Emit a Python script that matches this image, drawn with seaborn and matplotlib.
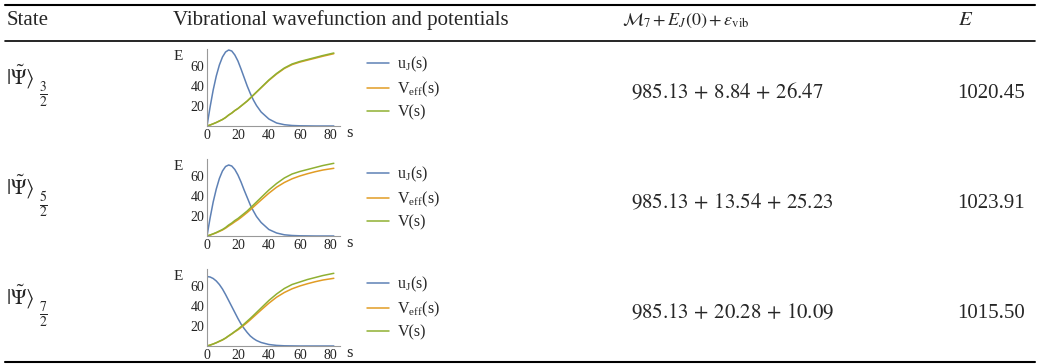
import pandas as pd
import seaborn as sns
import matplotlib.pyplot as plt
from matplotlib.ticker import MultipleLocator

sns.set_style("white")
plt.rcParams["font.family"] = ["Liberation Serif", "DejaVu Serif"]
plt.rcParams["mathtext.fontset"] = "stix"

# table text
header = ["State", "Vibrational wavefunction and potentials",
          r"$\mathcal{M}_7 + E_J(0) + \varepsilon_{\mathrm{vib}}$", r"$E$"]
state_tag = r"$|\tilde{\Psi}\rangle$"
state_j = [r"$\frac{3}{2}$", r"$\frac{5}{2}$", r"$\frac{7}{2}$"]
m7 = ["985.13", "985.13", "985.13"]
ej0 = ["8.84", "13.54", "20.28"]
evib = ["26.47", "25.23", "10.09"]
energies = ["1020.45", "1023.91", "1015.50"]

# curves (s, energy)
s = [0, 2, 4, 6, 8, 10, 12, 14, 16, 18, 20, 22, 24, 26, 28, 30, 32, 35,
     40, 45, 50, 55, 60, 65, 70, 75, 82]

u_32 = [0, 19, 36, 50, 61, 69, 74, 76, 75, 71, 65, 57, 48.5, 40, 32.5, 26,
        20.5, 14, 7, 3, 1.3, 0.5, 0.2, 0.1, 0, 0, 0]
veff_32 = [0, 1, 2.2, 3.5, 5, 6.5, 8.4, 10.9, 12.9, 15.4, 17.4, 19.9, 22.4,
           24.9, 27.8, 30.8, 33.8, 38.2, 45.6, 52, 57.5, 61.4, 63.9, 65.9,
           67.8, 69.8, 72.3]
v_32 = [0, 1, 2.2, 3.5, 5, 6.5, 8.5, 11, 13, 15.5, 17.5, 20, 22.5, 25, 28,
        31, 34, 38.5, 46, 52.5, 58, 62, 64.5, 66.5, 68.5, 70.5, 73]

u_52 = [0, 18, 34, 47, 57.5, 65, 69.5, 71, 70, 66.5, 61, 54, 46, 38.5, 31,
        25, 19.5, 13.5, 6.5, 3, 1.2, 0.5, 0.2, 0.1, 0, 0, 0]
veff_52 = [0, 0.9, 2, 3.2, 4.6, 6, 7.8, 10, 12, 14.2, 16.2, 18.5, 21, 23.5,
           26.2, 29, 31.8, 36, 42.8, 48.8, 53.5, 57.2, 60, 62.3, 64.3, 66,
           67.7]
v_52 = [0, 1, 2.2, 3.5, 5, 6.5, 8.5, 11, 13, 15.5, 17.5, 20, 22.5, 25, 28,
        31, 34, 38.5, 46, 52.5, 58, 62, 64.5, 66.5, 68.5, 70.5, 72.7]

u_72 = [69.5, 69, 67.5, 65, 61.5, 57, 51.5, 45.5, 39.5, 33.5, 27.5, 22,
        17.5, 13.5, 10, 7.5, 5.5, 3.5, 1.5, 0.6, 0.2, 0.1, 0, 0, 0, 0, 0]
veff_72 = [0, 0.9, 2, 3.2, 4.6, 6, 7.8, 10, 12, 14.2, 16.2, 18.5, 21, 23.5,
           26.2, 29, 31.8, 36, 42.8, 48.8, 53.5, 57.2, 60, 62.3, 64.3, 66,
           67.7]
v_72 = [0, 0.9, 2, 3.3, 4.8, 6.2, 8, 10.2, 12.3, 14.6, 16.8, 19.4, 22, 24.8,
        27.6, 30.5, 33.5, 38, 45.5, 52, 57.5, 61.5, 64, 66.5, 68.5, 70.5,
        72.7]

curves = [(u_32, veff_32, v_32), (u_52, veff_52, v_52), (u_72, veff_72, v_72)]
labels = [r"u$_{\mathregular{J}}$(s)", r"V$_{\mathregular{eff}}$(s)", "V(s)"]
colors = ["#5E81B5", "#E19C24", "#8FB032"]

W, H = 1039, 364
fig = plt.figure(figsize=(W / 100, H / 100), dpi=100)


def fx(px):
    return px / W


def fy(py):
    return 1 - py / H


# rules
for y, lw in [(5, 1.5), (41, 1.2), (362, 1.5)]:
    fig.add_artist(plt.Line2D([fx(5), fx(1035)], [fy(y), fy(y)],
                              color="black", lw=lw))

fs = 15
hy = 25
fig.text(fx(7), fy(hy), header[0], fontsize=fs, va="baseline")
fig.text(fx(173), fy(hy), header[1], fontsize=fs, va="baseline")
fig.text(fx(622), fy(hy), header[2], fontsize=13, va="baseline")
fig.text(fx(958), fy(hy), header[3], fontsize=fs, va="baseline")

axis_bottoms = [126, 236, 346]
for i, bottom in enumerate(axis_bottoms):
    base = bottom - 28
    fig.text(fx(6), fy(bottom - 42), state_tag, fontsize=fs, va="baseline")
    fig.text(fx(43), fy(bottom - 31), state_j[i], fontsize=14,
             ha="center", va="center")
    fig.text(fx(631), fy(base),
             rf"${m7[i]}\,+\,{ej0[i]}\,+\,{evib[i]}$",
             fontsize=fs, va="baseline")
    fig.text(fx(1025), fy(base), energies[i], fontsize=fs, va="baseline",
             ha="right")

    u, veff, v = curves[i]
    df = pd.DataFrame({"s": s, labels[0]: u, labels[1]: veff, labels[2]: v})
    df = df.melt("s", var_name="curve", value_name="E")

    ax = fig.add_axes([fx(207), fy(bottom), fx(133), 77 / H])
    sns.lineplot(data=df, x="s", y="E", hue="curve", palette=colors,
                 linewidth=1.1, ax=ax)
    ax.set_xlim(0, 86)
    ax.set_ylim(0, 77)
    ax.set_xticks([0, 20, 40, 60, 80])
    ax.set_yticks([20, 40, 60])
    ax.xaxis.set_minor_locator(MultipleLocator(5))
    ax.yaxis.set_minor_locator(MultipleLocator(5))
    ax.tick_params(which="both", direction="in", colors="#999999",
                   labelcolor="#222222", labelsize=10, pad=2, width=0.6)
    ax.tick_params(which="major", length=3.5)
    ax.tick_params(which="minor", length=2)
    for side in ["top", "right"]:
        ax.spines[side].set_visible(False)
    for side in ["left", "bottom"]:
        ax.spines[side].set_color("#999999")
        ax.spines[side].set_linewidth(0.8)
    ax.set_xlabel("")
    ax.set_ylabel("")
    ax.text(-0.218, 0.9, "E", transform=ax.transAxes, fontsize=11,
            ha="center", va="center")
    ax.text(1.075, -0.09, "s", transform=ax.transAxes, fontsize=12,
            ha="center", va="center")

    ax.legend(title=None, loc="upper left",
              bbox_to_anchor=((367 - 207) / 133, 71 / 77),
              frameon=False, fontsize=11.5, handlelength=1.35,
              handletextpad=0.55, labelspacing=0.35, borderpad=0,
              borderaxespad=0)

fig.savefig("out.png", dpi=100)
